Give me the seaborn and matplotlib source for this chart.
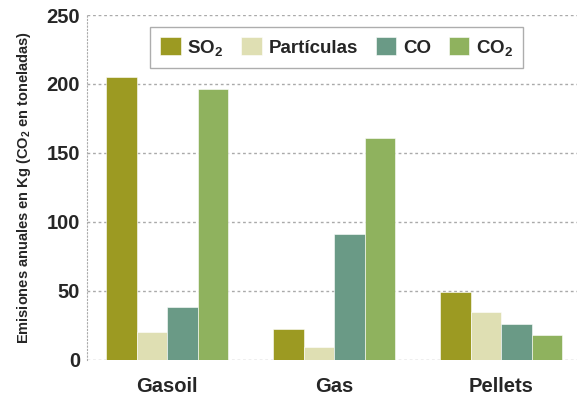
import pandas as pd
import matplotlib
matplotlib.use('Agg')
import matplotlib.pyplot as plt
import seaborn as sns

combustibles = ['Gasoil', 'Gas', 'Pellets']
contaminantes = ['SO2', 'Partículas', 'CO', 'CO2']
so2 = [205, 22, 49]
particulas = [20, 9, 35]
co = [38, 91, 26]
co2 = [196, 161, 18]
colores = ['#9c9a22', '#dfdfb3', '#6a9a86', '#8fb25e']
etiquetas = [r'SO$\mathregular{_2}$', 'Partículas', 'CO', r'CO$\mathregular{_2}$']

df = pd.DataFrame({'Combustible': combustibles * 4,
                   'Contaminante': [c for c in contaminantes for _ in combustibles],
                   'Valor': so2 + particulas + co + co2})

sns.set_style('white')
plt.rcParams['font.family'] = ['Liberation Sans', 'DejaVu Sans']
plt.rcParams['font.weight'] = 'bold'
plt.rcParams['mathtext.default'] = 'regular'

fig = plt.figure(figsize=(5.78, 3.95), dpi=100)
ax = fig.add_axes([0.1505, 0.089, 0.847, 0.873])
sns.barplot(data=df, x='Combustible', y='Valor', hue='Contaminante',
            palette=colores, width=0.73, edgecolor='white', linewidth=0.4,
            saturation=1, ax=ax)

ax.set_ylim(0, 250)
ax.set_xlim(-0.48, 2.45)
ax.set_yticks([0, 50, 100, 150, 200, 250])
for y in [0, 50, 100, 150, 200, 250]:
    ax.axhline(y, color='#aaaaaa', linestyle=(0, (2, 2)), linewidth=1, zorder=0)
for s in ['top', 'right', 'bottom']:
    ax.spines[s].set_visible(False)
ax.spines['left'].set_color('#aaaaaa')
ax.spines['left'].set_linestyle((0, (1, 2)))
ax.tick_params(axis='both', length=0)
ax.tick_params(axis='y', labelsize=14.5, pad=5)
ax.tick_params(axis='x', labelsize=14.5, pad=12)
ax.set_xlabel('')
ax.set_ylabel(r'Emisiones anuales en Kg (CO$\mathregular{_2}$ en toneladas)',
              fontsize=10.5, fontweight='bold', labelpad=10)

handles, _ = ax.get_legend_handles_labels()
leg = ax.legend(handles, etiquetas, ncol=4, loc='upper center',
                bbox_to_anchor=(0.51, 0.965), frameon=True, fancybox=False,
                edgecolor='#999999', fontsize=13.5, handlelength=1.1,
                handleheight=1.1, handletextpad=0.35, columnspacing=0.95,
                borderpad=0.55, borderaxespad=0)
leg.get_frame().set_linewidth(1)

fig.savefig('out.png', dpi=100)
